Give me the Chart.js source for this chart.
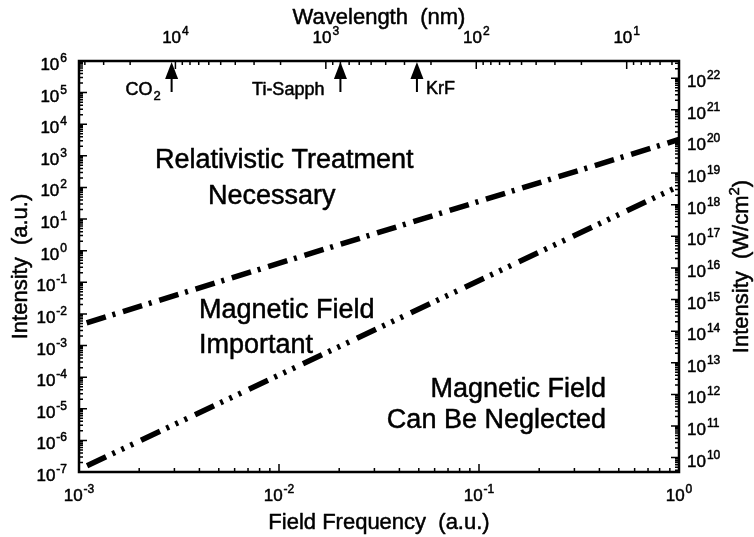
<!DOCTYPE html>
<html lang="en">
<head>
  <meta charset="UTF-8">
  <title>Field Frequency vs Intensity</title>
  <script src="https://cdn.jsdelivr.net/npm/chart.js"></script>
  <style>
    body { margin: 0; background: #fff; }
    #wrap { width: 754px; height: 537px; position: relative; }
  </style>
</head>
<body>
  <div id="wrap"><canvas id="chart"></canvas></div>

  <script>
    // values
    const frequency = [1e-3, 1];                      // field frequency (a.u.)
    const relativisticIntensity = [4.4e-3, 3.3e3];    // intensity (a.u.)
    const magneticIntensity = [1.2e-7, 1.1e2];        // intensity (a.u.)

    const bottomExponents = [-3, -2, -1, 0];
    const leftExponents = [-7, -6, -5, -4, -3, -2, -1, 0, 1, 2, 3, 4, 5, 6];
    const rightExponents = [10, 11, 12, 13, 14, 15, 16, 17, 18, 19, 20, 21, 22];
    const topExponents = [4, 3, 2, 1];                // wavelength (nm)

    const laserNames = ['CO', 'Ti-Sapph', 'KrF'];
    const laserWavelengths = [10600, 800, 248];       // nm

    const FONT = '"Liberation Sans", Arial, Helvetica, sans-serif';

    // filled text with a thin outline so it reads as heavy as the scan
    function txt(ctx, s, x, y) {
      ctx.fillText(s, x, y);
      ctx.strokeText(s, x, y);
    }

    // "10" with a raised exponent, y is the baseline of "10"
    function drawPow(ctx, x, y, exp, align) {
      const e = String(exp);
      ctx.font = '17px ' + FONT;
      const wb = ctx.measureText('10').width;
      ctx.font = '12px ' + FONT;
      const we = ctx.measureText(e).width;
      const total = wb + 1 + we;
      let x0 = x;
      if (align === 'right') x0 = x - total;
      if (align === 'center') x0 = x - total / 2;
      ctx.textAlign = 'left';
      ctx.textBaseline = 'alphabetic';
      ctx.font = '17px ' + FONT;
      txt(ctx, '10', x0, y);
      ctx.font = '12px ' + FONT;
      txt(ctx, e, x0 + wb + 1, y - 8);
    }

    // major and minor positions of a log scale
    function eachLogTick(scale, min, max, cb) {
      const d0 = Math.floor(Math.log10(min));
      const d1 = Math.ceil(Math.log10(max));
      for (let d = d0; d <= d1; d++) {
        for (let m = 1; m <= 9; m++) {
          const v = m * Math.pow(10, d);
          if (v < min * 0.999 || v > max * 1.001) continue;
          cb(scale.getPixelForValue(v), m === 1);
        }
      }
    }

    const decorPlugin = {
      id: 'decor',
      afterDatasetsDraw(chart) {
        const ctx = chart.ctx;
        const ca = chart.chartArea;
        const sx = chart.scales.x, sx2 = chart.scales.x2;
        const sy = chart.scales.y, sy2 = chart.scales.y2;
        ctx.save();
        ctx.fillStyle = '#000';
        ctx.strokeStyle = '#000';

        // inward tick marks
        ctx.lineWidth = 1.5;
        ctx.beginPath();
        eachLogTick(sy, sy.min, sy.max, (p, major) => {
          ctx.moveTo(ca.left, p); ctx.lineTo(ca.left + (major ? 8 : 4), p);
        });
        eachLogTick(sy2, sy2.min, sy2.max, (p, major) => {
          ctx.moveTo(ca.right, p); ctx.lineTo(ca.right - (major ? 8 : 4), p);
        });
        eachLogTick(sx, sx.min, sx.max, (p, major) => {
          ctx.moveTo(p, ca.bottom); ctx.lineTo(p, ca.bottom - (major ? 8 : 4));
        });
        eachLogTick(sx2, sx2.min, sx2.max, (p, major) => {
          ctx.moveTo(p, ca.top); ctx.lineTo(p, ca.top + (major ? 8 : 4));
        });
        ctx.stroke();

        // frame
        ctx.lineWidth = 2.5;
        ctx.strokeRect(ca.left, ca.top, ca.right - ca.left, ca.bottom - ca.top);

        ctx.lineWidth = 0.5;
        ctx.lineJoin = 'round';

        // tick labels
        leftExponents.forEach(e => drawPow(ctx, ca.left - 12, sy.getPixelForValue(Math.pow(10, e)) + 9, e, 'right'));
        rightExponents.forEach(e => drawPow(ctx, ca.right + 8, sy2.getPixelForValue(Math.pow(10, e)) + 9, e, 'left'));
        bottomExponents.forEach(e => drawPow(ctx, sx.getPixelForValue(Math.pow(10, e)), ca.bottom + 29, e, 'center'));
        topExponents.forEach(e => drawPow(ctx, sx2.getPixelForValue(Math.pow(10, e)), ca.top - 18, e, 'center'));

        // axis titles
        ctx.font = '22px ' + FONT;
        ctx.textAlign = 'center';
        ctx.textBaseline = 'alphabetic';
        const cx = (ca.left + ca.right) / 2;
        const cy = (ca.top + ca.bottom) / 2;
        txt(ctx, 'Field Frequency  (a.u.)', cx, 529);
        txt(ctx, 'Wavelength  (nm)', cx, 24);

        ctx.save();
        ctx.translate(27, cy);
        ctx.rotate(-Math.PI / 2);
        txt(ctx, 'Intensity  (a.u.)', 0, 0);
        ctx.restore();

        // right title with cm superscript
        ctx.save();
        ctx.translate(748, cy);
        ctx.rotate(-Math.PI / 2);
        ctx.font = '22px ' + FONT;
        const t1 = 'Intensity  (W/cm', t2 = '2', t3 = ')';
        const w1 = ctx.measureText(t1).width, w3 = ctx.measureText(t3).width;
        ctx.font = '15px ' + FONT;
        const w2 = ctx.measureText(t2).width;
        const tx = -(w1 + w2 + w3) / 2;
        ctx.textAlign = 'left';
        ctx.font = '22px ' + FONT;
        txt(ctx, t1, tx, 0);
        ctx.font = '15px ' + FONT;
        txt(ctx, t2, tx + w1, -9);
        ctx.font = '22px ' + FONT;
        txt(ctx, t3, tx + w1 + w2, 0);
        ctx.restore();

        // laser arrows on the wavelength axis
        laserWavelengths.forEach((w, i) => {
          const ax = sx2.getPixelForValue(w);
          ctx.beginPath();
          ctx.moveTo(ax, ca.top + 1);
          ctx.lineTo(ax - 6.5, ca.top + 18);
          ctx.lineTo(ax + 6.5, ca.top + 18);
          ctx.closePath();
          ctx.fill();
          ctx.fillRect(ax - 1, ca.top + 17, 2, 14);

          ctx.textAlign = 'left';
          if (i === 0) {
            ctx.font = '18px ' + FONT;
            const wc = ctx.measureText(laserNames[i]).width;
            ctx.font = '13px ' + FONT;
            const ws = ctx.measureText('2').width;
            const x0 = ax - 11 - ws - wc - 1;
            ctx.font = '18px ' + FONT;
            txt(ctx, laserNames[i], x0, 95);
            ctx.font = '13px ' + FONT;
            txt(ctx, '2', x0 + wc + 1, 100);
          } else if (i === 1) {
            ctx.font = '18px ' + FONT;
            ctx.textAlign = 'right';
            txt(ctx, laserNames[i], ax - 16, 95);
          } else {
            ctx.font = '18px ' + FONT;
            txt(ctx, laserNames[i], ax + 9, 94);
          }
        });

        // region labels
        ctx.font = '27px ' + FONT;
        ctx.textAlign = 'left';
        txt(ctx, 'Relativistic Treatment', 155, 168);
        txt(ctx, 'Necessary', 208, 204);
        txt(ctx, 'Magnetic Field', 199, 318);
        txt(ctx, 'Important', 199, 353);
        ctx.textAlign = 'right';
        txt(ctx, 'Magnetic Field', 606, 397);
        txt(ctx, 'Can Be Neglected', 606, 428);

        ctx.restore();
      }
    };

    new Chart(document.getElementById('chart'), {
      type: 'line',
      data: {
        datasets: [
          {
            label: 'Relativistic threshold',
            data: frequency.map((f, i) => ({ x: f, y: relativisticIntensity[i] })),
            borderColor: '#000',
            borderWidth: 5.5,
            borderCapStyle: 'butt',
            borderDash: [20, 7, 3, 8],
            borderDashOffset: 30,
            pointRadius: 0,
            fill: false,
            xAxisID: 'x',
            yAxisID: 'y'
          },
          {
            label: 'Magnetic field threshold',
            data: frequency.map((f, i) => ({ x: f, y: magneticIntensity[i] })),
            borderColor: '#000',
            borderWidth: 5.5,
            borderCapStyle: 'butt',
            borderDash: [21, 7, 3, 7, 3, 7, 3, 8.7],
            borderDashOffset: 50.8,
            pointRadius: 0,
            fill: false,
            xAxisID: 'x',
            yAxisID: 'y'
          }
        ]
      },
      options: {
        responsive: true,
        maintainAspectRatio: false,
        devicePixelRatio: 1,
        animation: false,
        layout: { padding: 0 },
        plugins: { legend: { display: false }, tooltip: { enabled: false } },
        scales: {
          x: {
            type: 'logarithmic', position: 'bottom', min: 1e-3, max: 1,
            ticks: { display: false }, grid: { display: false }, border: { display: false },
            afterFit: s => { s.height = 65; }
          },
          x2: {
            type: 'logarithmic', position: 'top', reverse: true, min: 4.49, max: 43750,
            ticks: { display: false }, grid: { display: false }, border: { display: false },
            afterFit: s => { s.height = 61; }
          },
          y: {
            type: 'logarithmic', position: 'left', min: 1e-7, max: 1e6,
            ticks: { display: false }, grid: { display: false }, border: { display: false },
            afterFit: s => { s.width = 79; }
          },
          y2: {
            type: 'logarithmic', position: 'right', min: 3.51e9, max: 3.51e22,
            ticks: { display: false }, grid: { display: false }, border: { display: false },
            afterFit: s => { s.width = 75; }
          }
        }
      },
      plugins: [decorPlugin]
    });
  </script>
</body>
</html>
